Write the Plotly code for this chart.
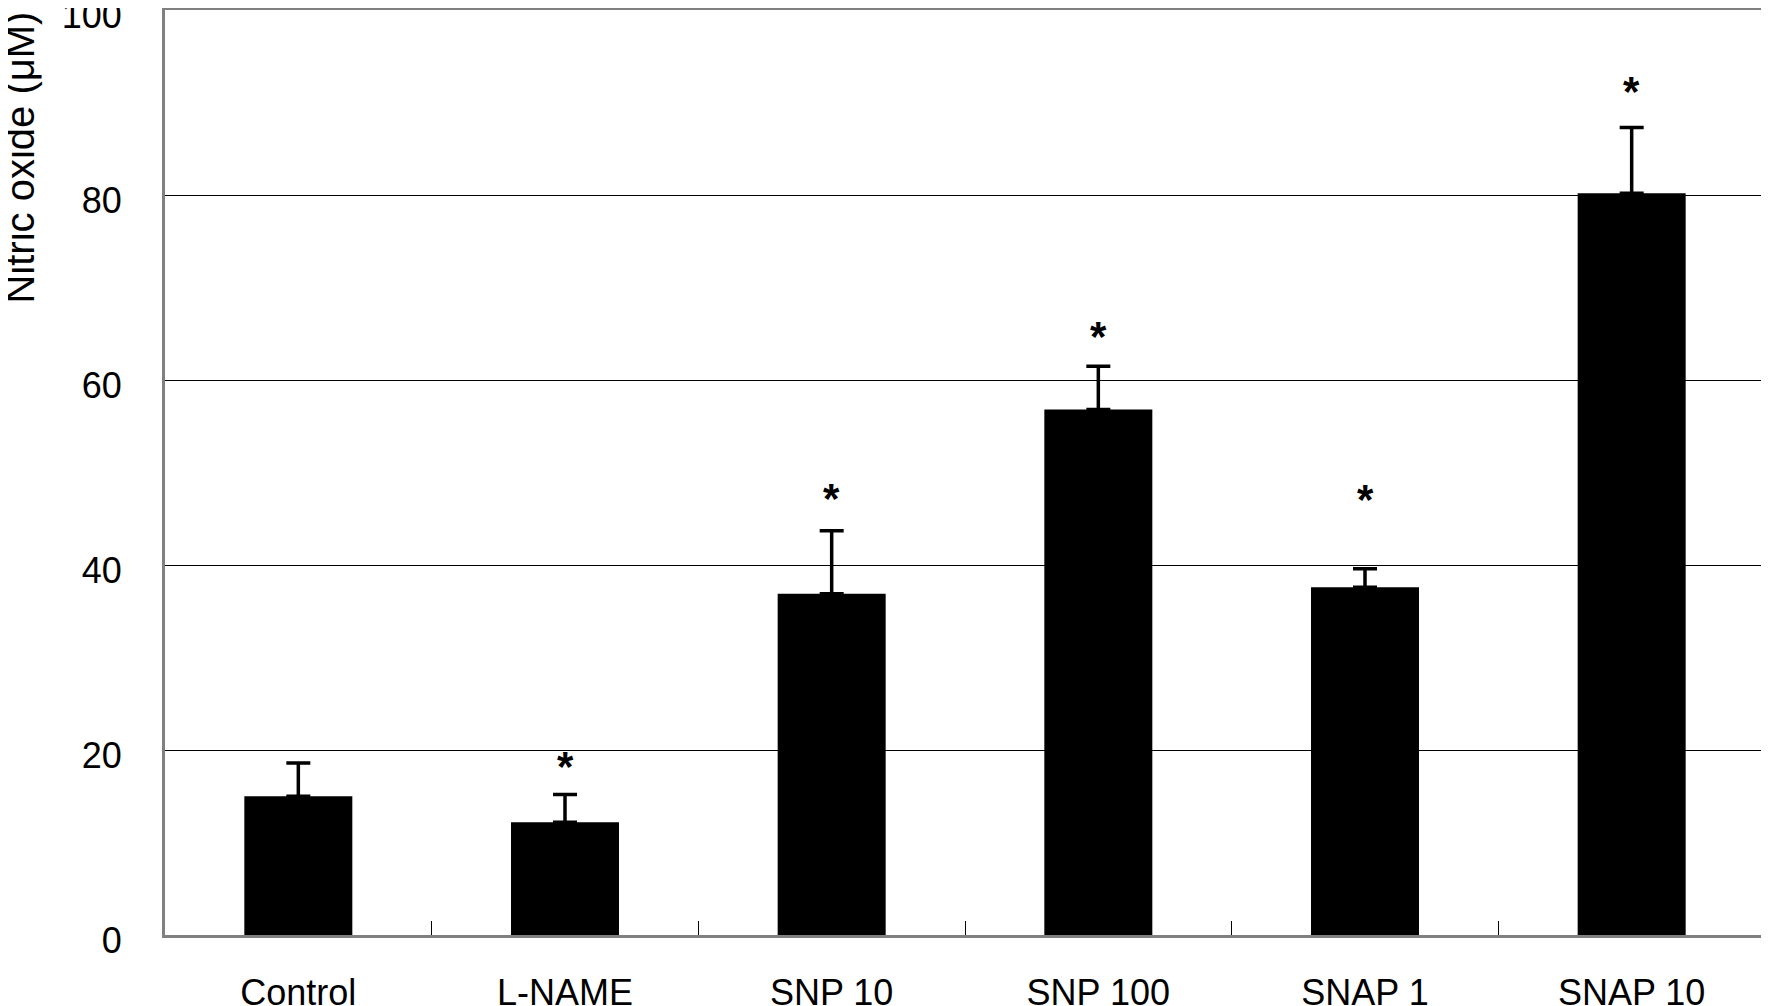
import plotly.graph_objects as go

categories = ["Control", "L-NAME", "SNP 10", "SNP 100", "SNAP 1", "SNAP 10"]
means = [15.0, 12.2, 36.9, 56.8, 37.6, 80.2]
sem = [3.6, 3.0, 6.8, 4.7, 2.0, 7.1]
significant = [False, True, True, True, True, True]
star_y = [None, 18.7, 47.6, 65.1, 47.5, 91.6]
y_ticks = [0, 20, 40, 60, 80, 100]

FONT = "Liberation Sans, Arial, sans-serif"

fig = go.Figure()
fig.add_trace(go.Bar(
    x=categories, y=means, width=0.405,
    marker=dict(color="black", line=dict(width=0)),
    error_y=dict(type="data", array=sem, arrayminus=[0] * len(sem), symmetric=False,
                 color="black", thickness=3.5, width=12),
    showlegend=False,
))

for c, s, y in zip(categories, significant, star_y):
    if s:
        fig.add_annotation(x=c, y=y, text="<b>*</b>", showarrow=False,
                           font=dict(family="Liberation Sans, Arial", size=42, color="black"),
                           yanchor="middle", yshift=-4)

# page body has an 8px default margin; figure sized to fit the 1769x1006 window
W, H = 1761, 998
L, R, T, B = 156.5, 4, 1.5, 71
plot_w = W - L - R

fig.add_annotation(xref="paper", yref="paper", x=(19 - 8 - L) / plot_w, y=1,
                   xanchor="center", yanchor="top", yshift=0,
                   text="Nitric oxide (μM)", textangle=-90,
                   showarrow=False, font=dict(family=FONT, size=40, color="black"))

fig.update_layout(
    width=W, height=H,
    margin=dict(l=L, r=R, t=T, b=B, pad=0),
    plot_bgcolor="white", paper_bgcolor="white",
    font=dict(family=FONT, size=36, color="black"),
    xaxis=dict(showline=True, linecolor="#808080", linewidth=3, mirror=True,
               ticks="inside", tickson="boundaries", ticklen=14, tickcolor="black", tickwidth=1,
               showgrid=False, ticklabelstandoff=24, automargin=False,
               ticklabeloverflow="allow"),
    yaxis=dict(range=[0, 100], tickvals=y_ticks, showline=True, linecolor="#808080", linewidth=3,
               mirror=True, ticks="inside", ticklen=10, tickcolor="black", tickwidth=1,
               showgrid=True, gridcolor="black", gridwidth=1.3, zeroline=False,
               ticklabelstandoff=33, ticklabelshift=5, automargin=False,
               ticklabeloverflow="allow"),
)

fig.write_html("out.html")
